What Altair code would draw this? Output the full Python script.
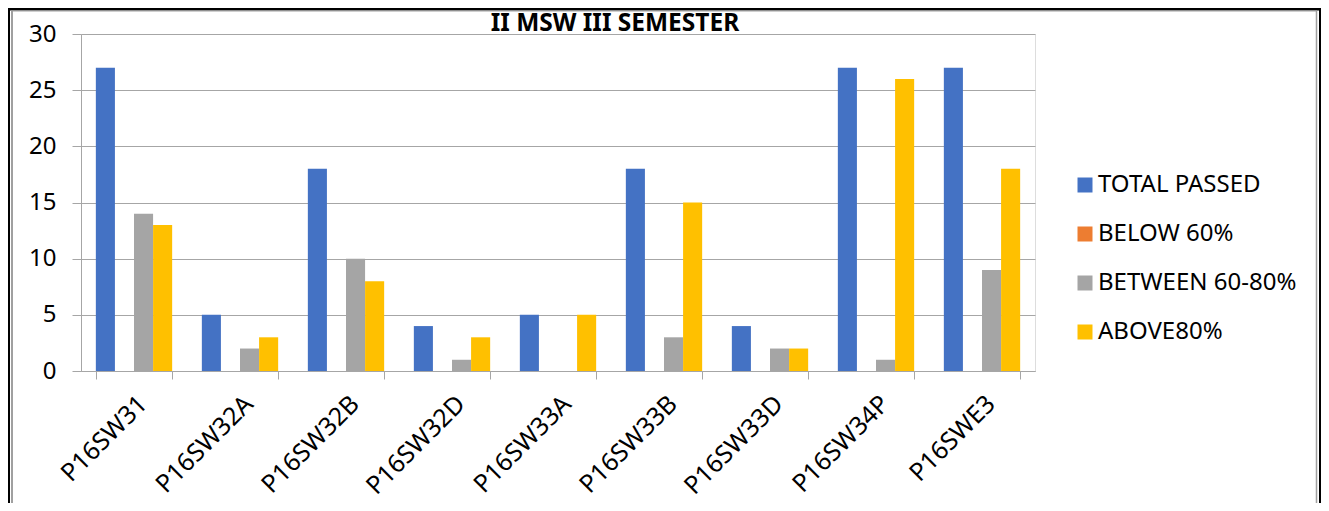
import altair as alt
import pandas as pd

categories = ["P16SW31", "P16SW32A", "P16SW32B", "P16SW32D", "P16SW33A",
              "P16SW33B", "P16SW33D", "P16SW34P", "P16SWE3"]
series = ["TOTAL PASSED", "BELOW 60%", "BETWEEN 60-80%", "ABOVE80%"]
total_passed = [27, 5, 18, 4, 5, 18, 4, 27, 27]
below_60 = [0, 0, 0, 0, 0, 0, 0, 0, 0]
between_60_80 = [14, 2, 10, 1, 0, 3, 2, 1, 9]
above_80 = [13, 3, 8, 3, 5, 15, 2, 26, 18]
colors = ["#4472C4", "#ED7D31", "#A5A5A5", "#FFC000"]
y_ticks = [0, 5, 10, 15, 20, 25, 30]

rows = []
for name, vals in zip(series, [total_passed, below_60, between_60_80, above_80]):
    for c, v in zip(categories, vals):
        rows.append({"category": c, "series": name, "value": v})
df = pd.DataFrame(rows)

FONT = "Noto Sans"
GRID = "#A6A6A6"

bars = alt.Chart(df).mark_bar().encode(
    x=alt.X("category:N", sort=categories, title=None,
            scale=alt.Scale(paddingInner=0.28, paddingOuter=0.14),
            axis=alt.Axis(labelAngle=-45, labelFontSize=25, labelFont=FONT,
                          labelColor="black", labelPadding=12, tickSize=8,
                          tickColor=GRID, domainColor=GRID, tickBand="extent",
                          grid=False)),
    xOffset=alt.XOffset("series:N", sort=series,
                        scale=alt.Scale(paddingInner=0, paddingOuter=0)),
    y=alt.Y("value:Q", title=None, scale=alt.Scale(domain=[0, 30], nice=False),
            axis=alt.Axis(values=y_ticks, labelFontSize=24, labelFont=FONT,
                          labelColor="black", labelPadding=16, tickSize=9,
                          tickColor=GRID, domainColor=GRID, gridColor=GRID,
                          grid=True)),
    color=alt.Color("series:N", sort=series,
                    scale=alt.Scale(domain=series, range=colors),
                    legend=alt.Legend(title=None, orient="none", legendX=992,
                                      legendY=139, symbolType="square",
                                      symbolSize=225, labelFontSize=24,
                                      labelFont=FONT, labelColor="black",
                                      rowPadding=25, labelOffset=1,
                                      labelLimit=400,
                                      symbolStrokeWidth=0, padding=0)),
)

frame_data = alt.Data(values=[{}])
black_left = alt.Chart(frame_data).mark_rule(color="black", strokeWidth=2).encode(
    x=alt.value(-72), y=alt.value(-26), y2=alt.value(477))
black_right = alt.Chart(frame_data).mark_rule(color="black", strokeWidth=3).encode(
    x=alt.value(1239.5), y=alt.value(-26), y2=alt.value(477))
black_top = alt.Chart(frame_data).mark_rule(color="black", strokeWidth=2.5).encode(
    x=alt.value(-73), x2=alt.value(1241), y=alt.value(-24.75))
gray_left = alt.Chart(frame_data).mark_rule(color="#A0A0A0", strokeWidth=2).encode(
    x=alt.value(-69), y=alt.value(-23), y2=alt.value(477))
gray_right = alt.Chart(frame_data).mark_rule(color="#A0A0A0", strokeWidth=1.5).encode(
    x=alt.value(1235.5), y=alt.value(-23), y2=alt.value(477))
gray_top = alt.Chart(frame_data).mark_rule(color="#A0A0A0", strokeWidth=1).encode(
    x=alt.value(-70), x2=alt.value(1236), y=alt.value(-23))

chart = alt.layer(
    bars, black_left, black_right, black_top, gray_left, gray_right, gray_top
).properties(
    width=954, height=337,
    title=alt.TitleParams("II MSW III SEMESTER", fontSize=24.5, fontWeight="bold",
                          font=FONT, anchor="middle", frame="group", dx=57,
                          offset=-29.5, color="black"),
    autosize=alt.AutoSizeParams(type="none"),
    padding={"left": 73, "top": 26, "right": 286, "bottom": 132},
).configure_view(stroke=None).configure(background="white")

chart.save("out.html", embed_options={"renderer": "svg", "actions": False})
